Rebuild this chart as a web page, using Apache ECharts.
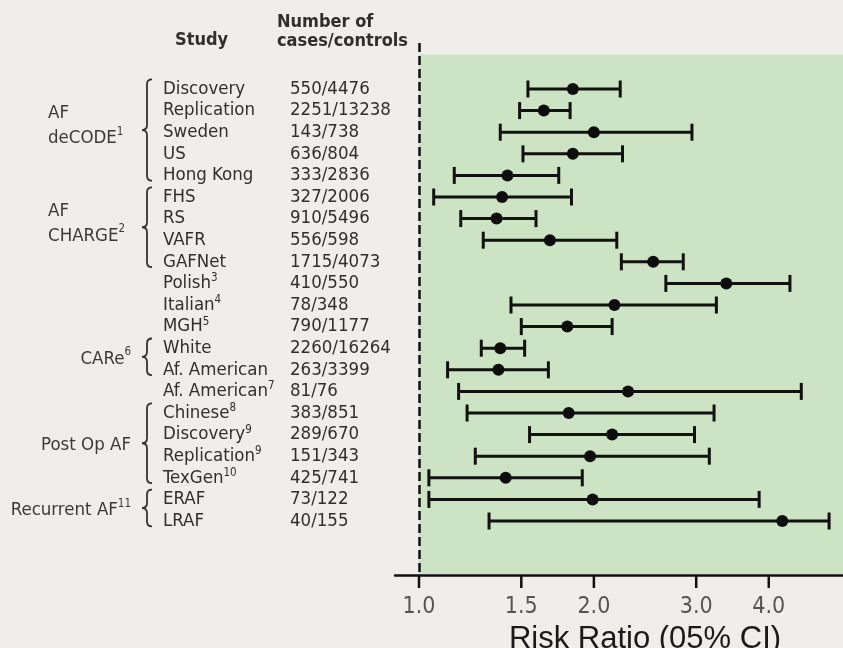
<!DOCTYPE html>
<html>
<head>
<meta charset="utf-8">
<script src="https://cdn.jsdelivr.net/npm/echarts@6/dist/echarts.min.js"></script>
<style>
  html, body { margin: 0; padding: 0; background: #f0eeeb; }
  #chart { width: 843px; height: 648px; }
</style>
</head>
<body>
<div id="chart"></div>
<script>
// Genetic association studies of atrial fibrillation: risk ratio with 95% CI per study
const studies = ['Discovery', 'Replication', 'Sweden', 'US', 'Hong Kong', 'FHS', 'RS', 'VAFR', 'GAFNet',
  'Polish', 'Italian', 'MGH', 'White', 'Af. American', 'Af. American', 'Chinese', 'Discovery',
  'Replication', 'TexGen', 'ERAF', 'LRAF'];
const studyRefs = ['', '', '', '', '', '', '', '', '', '3', '4', '5', '', '', '7', '8', '9', '9', '10', '', ''];
const casesControls = ['550/4476', '2251/13238', '143/738', '636/804', '333/2836', '327/2006', '910/5496',
  '556/598', '1715/4073', '410/550', '78/348', '790/1177', '2260/16264', '263/3399', '81/76', '383/851',
  '289/670', '151/343', '425/741', '73/122', '40/155'];
const riskRatio = [1.84, 1.64, 2.00, 1.84, 1.42, 1.39, 1.36, 1.68, 2.53, 3.38, 2.17, 1.80, 1.38, 1.37,
  2.29, 1.81, 2.15, 1.97, 1.41, 1.99, 4.22];
const ciLower = [1.54, 1.49, 1.38, 1.51, 1.15, 1.06, 1.18, 1.29, 2.23, 2.66, 1.44, 1.50, 1.28, 1.12,
  1.17, 1.21, 1.55, 1.25, 1.04, 1.04, 1.32];
const ciUpper = [2.22, 1.82, 2.95, 2.24, 1.74, 1.83, 1.59, 2.19, 2.85, 4.35, 3.25, 2.15, 1.52, 1.67,
  4.55, 3.22, 2.98, 3.16, 1.91, 3.85, 5.08];

// Study groups (bracketed rows)
const groupLabels = [['AF', 'deCODE'], ['AF', 'CHARGE'], ['CARe'], ['Post Op AF'], ['Recurrent AF']];
const groupRefs = ['1', '2', '6', '', '11'];
const groupFirstRow = [1, 6, 13, 16, 20];
const groupLastRow = [5, 9, 14, 19, 21];

const xTicks = [1.0, 1.5, 2.0, 3.0, 4.0];
const xTitle = 'Risk Ratio (05% CI)';

const rows = studies.map((_, i) => i + 1);

const FONT = "'Liberation Sans Narrow', 'DejaVu Sans Condensed', 'Arial Narrow', sans-serif";
const INK = '#2f2f2f';
const TXT = 18.5;
const Y_MIN = -1.13, Y_MAX = 23.5;

const richText = {
  n: { fontFamily: FONT, fontSize: TXT, color: INK, lineHeight: 22 },
  s: { fontFamily: FONT, fontSize: 11.5, color: INK, lineHeight: 12, verticalAlign: 'top' }
};

function yAxisBase() {
  return {
    type: 'value', inverse: true, min: Y_MIN, max: Y_MAX,
    axisLine: { show: false }, axisTick: { show: false }, splitLine: { show: false }
  };
}

const headerGraphics = [
  { id: 'hStudy', type: 'text', left: 175, top: 31, style: { text: 'Study', font: 'bold 18px ' + FONT, fill: INK } },
  { id: 'hCount', type: 'text', left: 277, top: 13, style: { text: 'Number of\ncases/controls', font: 'bold 18px ' + FONT, lineHeight: 19, fill: INK } }
];

const chart = echarts.init(document.getElementById('chart'), null, { renderer: 'canvas' });

chart.setOption({
  backgroundColor: '#f0eeeb',
  animation: false,
  grid: { left: 395, right: 0, top: 43, bottom: 73, containLabel: false, outerBoundsMode: 'none' },
  xAxis: {
    type: 'log', logBase: 10, min: 0.9093, max: 5.368,
    axisLine: { show: true, onZero: false, lineStyle: { color: '#111', width: 2.5 } },
    axisTick: { show: false },
    minorTick: { show: false },
    splitLine: { show: false },
    axisLabel: {
      customValues: xTicks, margin: 21,
      formatter: v => Number(v).toFixed(1),
      fontFamily: FONT, fontSize: 23, color: '#555'
    },
    name: xTitle, nameLocation: 'middle', nameGap: 48,
    nameTextStyle: { fontFamily: "'Liberation Sans', Arial, sans-serif", fontSize: 31, color: '#1a1a1a', padding: [0, 0, 0, 52] }
  },
  yAxis: [
    Object.assign(yAxisBase(), {
      position: 'left',
      axisLabel: {
        customValues: rows, align: 'left', margin: 232,
        formatter: v => {
          const i = Math.round(v) - 1;
          return '{n|' + studies[i] + '}' + (studyRefs[i] ? '{s|' + studyRefs[i] + '}' : '');
        },
        rich: richText
      }
    }),
    Object.assign(yAxisBase(), {
      position: 'left', offset: 0,
      axisLabel: {
        customValues: rows, align: 'left', margin: 105,
        formatter: v => '{n|' + casesControls[Math.round(v) - 1] + '}',
        rich: richText
      }
    })
  ],
  graphic: headerGraphics,
  series: [
    {
      // confidence interval whiskers
      type: 'custom', z: 2,
      data: rows.map((r, i) => [r, ciLower[i], ciUpper[i]]),
      encode: { x: [1, 2], y: 0 },
      renderItem: (params, api) => {
        const r = api.value(0);
        const a = api.coord([api.value(1), r]);
        const b = api.coord([api.value(2), r]);
        const h = 8.5;
        const st = { stroke: '#111', lineWidth: 3 };
        return {
          type: 'group', children: [
            { type: 'line', shape: { x1: a[0], y1: a[1], x2: b[0], y2: b[1] }, style: st },
            { type: 'line', shape: { x1: a[0], y1: a[1] - h, x2: a[0], y2: a[1] + h }, style: st },
            { type: 'line', shape: { x1: b[0], y1: b[1] - h, x2: b[0], y2: b[1] + h }, style: st }
          ]
        };
      },
      markArea: {
        silent: true,
        itemStyle: { color: '#cce4c3' },
        data: [[{ xAxis: 1, yAxis: -0.6 }, { xAxis: 5.368, yAxis: 23.45 }]]
      }
    },
    {
      // point estimates
      type: 'scatter', z: 3,
      data: rows.map((r, i) => [riskRatio[i], r]),
      symbol: 'circle', symbolSize: 12,
      itemStyle: { color: '#0d0d0d', opacity: 1 },
      markLine: {
        silent: true, symbol: 'none', label: { show: false },
        lineStyle: { color: '#111', width: 2.5, type: [9, 4] },
        data: [{ xAxis: 1 }]
      }
    },
    {
      // group names and braces
      type: 'custom', z: 2, clip: false,
      data: groupFirstRow.map((f, i) => [1, f, groupLastRow[i], i]),
      encode: { x: 0, y: [1, 2] },
      renderItem: (params, api) => {
        const cs = params.coordSys;
        const i = api.value(3);
        const top = api.coord([1, api.value(1) - 0.45])[1];
        const bot = api.coord([1, api.value(2) + 0.25])[1];
        const mid = (top + bot) / 2;
        const xv = cs.x - 248, xc = xv - 5, xr = xv + 5, rr = 5;
        const path = 'M' + xr + ' ' + top + ' Q' + xv + ' ' + top + ' ' + xv + ' ' + (top + rr) +
          ' L' + xv + ' ' + (mid - rr) + ' Q' + xv + ' ' + mid + ' ' + xc + ' ' + mid +
          ' Q' + xv + ' ' + mid + ' ' + xv + ' ' + (mid + rr) +
          ' L' + xv + ' ' + (bot - rr) + ' Q' + xv + ' ' + bot + ' ' + xr + ' ' + bot;
        const lines = groupLabels[i];
        const ref = groupRefs[i] ? '{s|' + groupRefs[i] + '}' : '';
        let text;
        if (lines.length > 1) {
          text = lines.slice(0, -1).map(l => '{g|' + l + '}').join('\n') + '\n{g|' + lines[lines.length - 1] + '}' + ref;
        } else {
          text = '{g|' + lines[0] + '}' + ref;
        }
        const multi = lines.length > 1;
        const labelY = api.coord([1, (api.value(1) + api.value(2)) / 2 - (multi ? 0.28 : 0)])[1];
        return {
          type: 'group', children: [
            { type: 'path', shape: { pathData: path }, style: { stroke: '#333', lineWidth: 1.8, fill: null } },
            {
              type: 'text', x: multi ? cs.x - 347 : cs.x - 264, y: labelY,
              style: {
                text: text, align: multi ? 'left' : 'right', verticalAlign: 'middle',
                rich: {
                  g: { fontFamily: FONT, fontSize: TXT, fill: '#3a3a3a', lineHeight: 25 },
                  s: { fontFamily: FONT, fontSize: 11.5, fill: '#3a3a3a', lineHeight: 12, verticalAlign: 'top' }
                }
              }
            }
          ]
        };
      }
    }
  ]
});

// Tick marks below the risk-ratio axis, placed through the axis scales
const axisY = chart.convertToPixel({ yAxisIndex: 0 }, Y_MAX);
const tickGraphics = xTicks.map((v, i) => {
  const x = chart.convertToPixel({ xAxisIndex: 0 }, v);
  return {
    id: 'tick' + i, type: 'rect', z: 100,
    shape: { x: x - 1.25, y: axisY, width: 2.5, height: 13 },
    style: { fill: '#111' }
  };
});
chart.setOption({ graphic: headerGraphics.concat(tickGraphics) });
</script>
</body>
</html>
